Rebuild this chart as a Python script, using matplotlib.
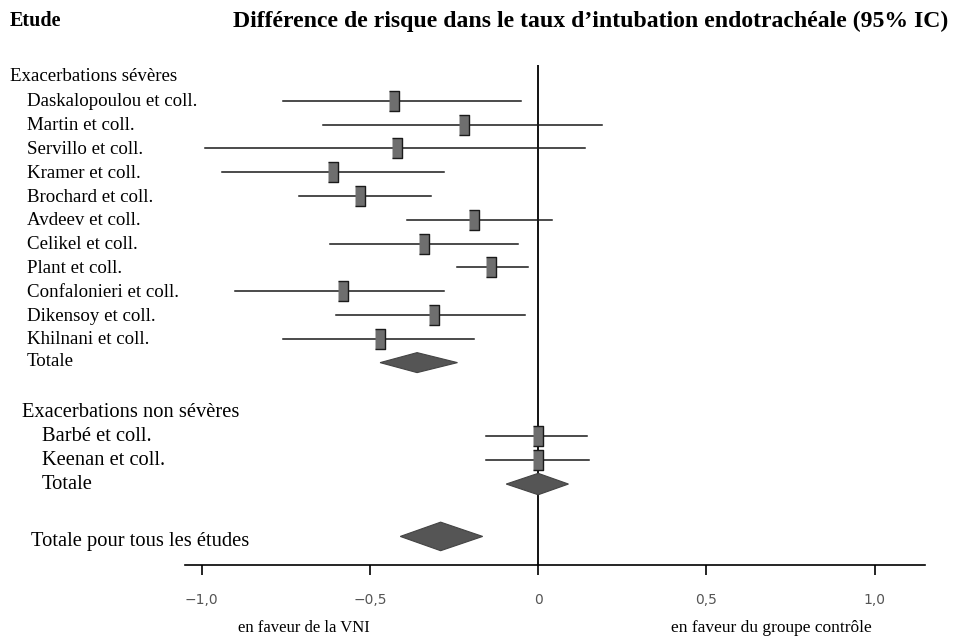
import matplotlib
matplotlib.use('Agg')
import matplotlib.pyplot as plt
from matplotlib.patches import Polygon
from matplotlib.transforms import blended_transform_factory

# --- data ---
severe_names = ["Daskalopoulou et coll.", "Martin et coll.", "Servillo et coll.",
                "Kramer et coll.", "Brochard et coll.", "Avdeev et coll.",
                "Celikel et coll.", "Plant et coll.", "Confalonieri et coll.",
                "Dikensoy et coll.", "Khilnani et coll."]
severe_est = [-0.43, -0.22, -0.42, -0.61, -0.53, -0.19, -0.34, -0.14, -0.58, -0.31, -0.47]
severe_lo = [-0.76, -0.64, -0.99, -0.94, -0.71, -0.39, -0.62, -0.24, -0.90, -0.60, -0.76]
severe_hi = [-0.05, 0.19, 0.14, -0.28, -0.32, 0.04, -0.06, -0.03, -0.28, -0.04, -0.19]
severe_total = (-0.36, -0.47, -0.24)  # est, lo, hi

nonsev_names = ["Barbé et coll.", "Keenan et coll."]
nonsev_est = [0.0, 0.0]
nonsev_lo = [-0.155, -0.155]
nonsev_hi = [0.146, 0.15]
nonsev_total = (0.0, -0.095, 0.09)

overall_total = (-0.29, -0.41, -0.165)

tick_vals = [-1.0, -0.5, 0.0, 0.5, 1.0]
tick_labels = ["\u22121,0", "\u22120,5", "0", "0,5", "1,0"]

# --- layout (rows) ---
W, H = 954, 636
y_sev_head = 0
y_sev = list(range(1, 12))
y_sev_tot = 12
y_non_head = 14.1
y_non = [15.1, 16.1]
y_non_tot = 17.1
y_all = 19.3

plt.rcParams['font.family'] = ['Liberation Serif', 'DejaVu Serif']
fig = plt.figure(figsize=(W / 100, H / 100), dpi=100)
ax_left, ax_right = 185 / W, 925 / W
ax_bottom, ax_top = (H - 565) / H, (H - 65) / H
ax = fig.add_axes([ax_left, ax_bottom, ax_right - ax_left, ax_top - ax_bottom])
ax.set_xlim(-1.05, 1.15)
ax.set_ylim(20.5, -0.5)

for s in ['left', 'right', 'top']:
    ax.spines[s].set_visible(False)
ax.spines['bottom'].set_linewidth(1.2)
ax.set_yticks([])
ax.set_xticks(tick_vals)
ax.set_xticklabels(tick_labels, family='DejaVu Sans', fontsize=10, color='#555555')
ax.tick_params(axis='x', direction='out', length=7, width=1.2, pad=13)

ax.axvline(0, color='black', lw=1.3, zorder=1)

box = [(-1, -2), (1, -2), (1, 2), (-1, 2)]


def draw_studies(ys, est, lo, hi):
    for y, e, l, h in zip(ys, est, lo, hi):
        ax.plot([l, h], [y, y], color='#1a1a1a', lw=1.1, zorder=2)
    ax.plot(est, ys, linestyle='none', marker=box, markersize=14,
            markerfacecolor='#6e6e6e', markeredgecolor='#1a1a1a',
            markeredgewidth=1.0, zorder=3)


def draw_diamond(y, tot, half):
    e, l, h = tot
    ax.add_patch(Polygon([(l, y), (e, y - half), (h, y), (e, y + half)],
                         closed=True, facecolor='#555555', edgecolor='#444444',
                         lw=0.8, zorder=3))


draw_studies(y_sev, severe_est, severe_lo, severe_hi)
draw_diamond(y_sev_tot, severe_total, 0.42)
draw_studies(y_non, nonsev_est, nonsev_lo, nonsev_hi)
draw_diamond(y_non_tot, nonsev_total, 0.45)
draw_diamond(y_all, overall_total, 0.6)

# --- left labels ---
tr = blended_transform_factory(fig.transFigure, ax.transData)
fs = 13.6
fs2 = 14.8  # lower block is printed a bit larger
ax.text(10 / W, y_sev_head, "Exacerbations sévères", transform=tr, fontsize=fs, va='center')
for y, name in zip(y_sev, severe_names):
    ax.text(27 / W, y + 0.05, name, transform=tr, fontsize=fs, va='center')
ax.text(27 / W, y_sev_tot - 0.05, "Totale", transform=tr, fontsize=fs, va='center')
ax.text(22 / W, y_non_head, "Exacerbations non sévères", transform=tr, fontsize=fs2, va='center')
for y, name in zip(y_non, nonsev_names):
    ax.text(42 / W, y, name, transform=tr, fontsize=fs2, va='center')
ax.text(42 / W, y_non_tot, "Totale", transform=tr, fontsize=fs2, va='center')
ax.text(31 / W, y_all + 0.2, "Totale pour tous les études", transform=tr, fontsize=fs2, va='center')

# --- header and footer ---
fig.text(10 / W, 1 - 21 / H, "Etude", fontsize=14.5, fontweight='bold', va='center')
fig.text(233 / W, 1 - 21 / H,
         "Différence de risque dans le taux d\u2019intubation endotrachéale (95% IC)",
         fontsize=17.1, fontweight='bold', va='center')
fig.text(304 / W, 1 - 628 / H, "en faveur de la VNI", fontsize=12, ha='center', va='center')
fig.text(771 / W, 1 - 628 / H, "en faveur du groupe contrôle", fontsize=12.5, ha='center', va='center')

fig.savefig("out.png", dpi=100, facecolor='white')
